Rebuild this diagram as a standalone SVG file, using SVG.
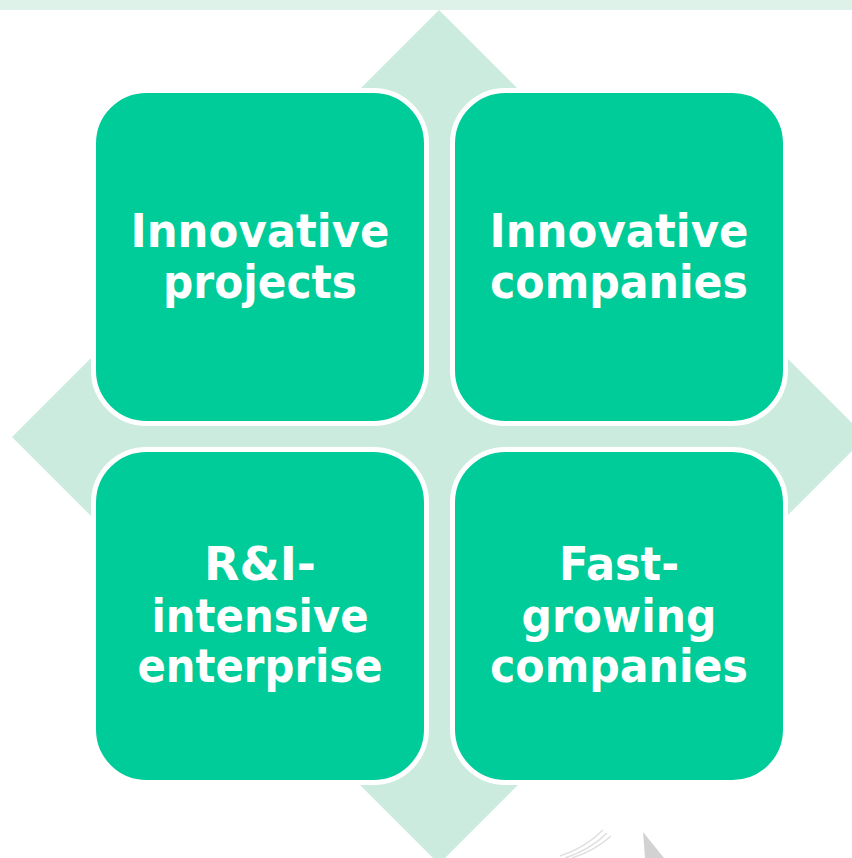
<svg xmlns="http://www.w3.org/2000/svg" width="852" height="858" viewBox="0 0 852 858">
  <style>
    .box { fill: #00CC99; stroke: #FFFFFF; stroke-width: 5; }
    .lbl { font-family: "DejaVu Sans", Verdana, sans-serif; font-weight: bold; font-size: 46px; fill: #FFFFFF; text-anchor: middle; }
  </style>
  <rect x="0" y="0" width="852" height="858" fill="#FFFFFF"/>
  <rect x="0" y="0" width="852" height="10" fill="#DFF2EA"/>
  <polygon points="439,10 866,437 439,864 12,437" fill="#CCEBDF"/>
  <g id="sketch" fill="none" stroke="#D8D8D8" stroke-width="1.5" opacity="0.8">
    <polygon points="643,832 664,858 645,858" fill="#C8C8C8" stroke="none"/>
    <path d="M560,856 Q585,848 603,830"/>
    <path d="M565,858 Q590,850 607,833"/>
    <path d="M572,858 Q596,850 611,836"/>
  </g>
  <g id="connectors"></g>
  <g id="node-innovative-projects">
    <rect class="box" x="93.5" y="90.5" width="333" height="333" rx="53"/>
    <text class="lbl" x="260" y="247" textLength="259" lengthAdjust="spacingAndGlyphs">Innovative</text>
    <text class="lbl" x="260" y="298" textLength="194" lengthAdjust="spacingAndGlyphs">projects</text>
  </g>
  <g id="node-innovative-companies">
    <rect class="box" x="452.5" y="90.5" width="333" height="333" rx="53"/>
    <text class="lbl" x="619" y="247" textLength="259" lengthAdjust="spacingAndGlyphs">Innovative</text>
    <text class="lbl" x="619" y="298" textLength="258" lengthAdjust="spacingAndGlyphs">companies</text>
  </g>
  <g id="node-ri-intensive">
    <rect class="box" x="93.5" y="449.5" width="333" height="333" rx="53"/>
    <text class="lbl" x="260" y="580" textLength="112" lengthAdjust="spacingAndGlyphs">R&amp;I-</text>
    <text class="lbl" x="260" y="632" textLength="217" lengthAdjust="spacingAndGlyphs">intensive</text>
    <text class="lbl" x="260" y="682" textLength="245" lengthAdjust="spacingAndGlyphs">enterprise</text>
  </g>
  <g id="node-fast-growing">
    <rect class="box" x="452.5" y="449.5" width="333" height="333" rx="53"/>
    <text class="lbl" x="619" y="580" textLength="120" lengthAdjust="spacingAndGlyphs">Fast-</text>
    <text class="lbl" x="619" y="632" textLength="195" lengthAdjust="spacingAndGlyphs">growing</text>
    <text class="lbl" x="619" y="682" textLength="258" lengthAdjust="spacingAndGlyphs">companies</text>
  </g>
</svg>
